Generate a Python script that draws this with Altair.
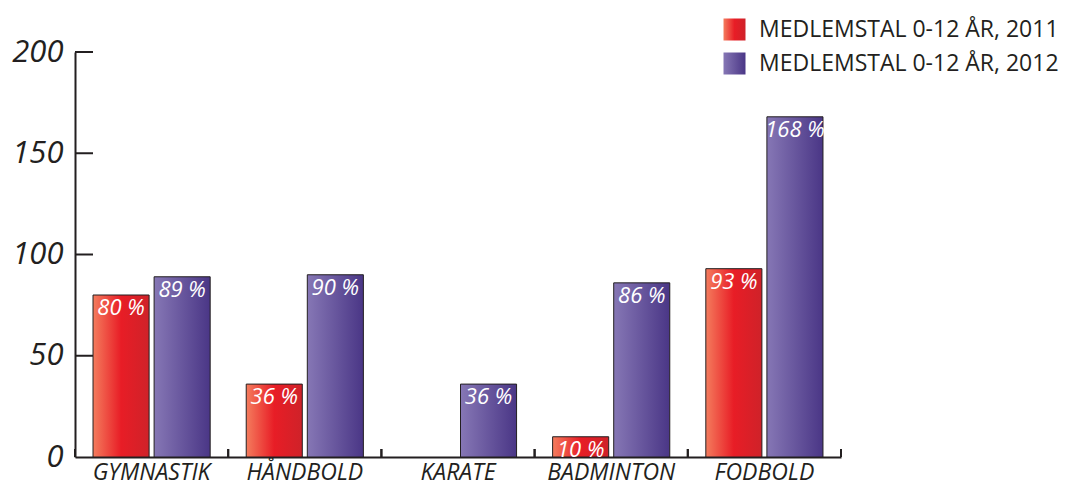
import altair as alt
import pandas as pd

categories = ["GYMNASTIK", "HÅNDBOLD", "KARATE", "BADMINTON", "FODBOLD"]
series_names = ["MEDLEMSTAL 0-12 ÅR, 2011", "MEDLEMSTAL 0-12 ÅR, 2012"]
values_2011 = [80, 36, 0, 10, 93]
values_2012 = [89, 90, 36, 86, 168]
y_ticks = [0, 50, 100, 150, 200]

rows = []
for c, a, b in zip(categories, values_2011, values_2012):
    rows.append({"cat": c, "series": series_names[0], "value": a, "label": f"{a} %"})
    rows.append({"cat": c, "series": series_names[1], "value": b, "label": f"{b} %"})
df = pd.DataFrame(rows)
df = df[df["value"] > 0]

tick_df = pd.DataFrame({"t": y_ticks[1:]})
cat_df = pd.DataFrame({"cat": categories})

INK = "#231f20"
FONT = "Open Sans"

red_grad = "{gradient: 'linear', x1: 0, y1: 0, x2: 1, y2: 0, stops: [{offset: 0, color: '#f47c5d'}, {offset: 0.5, color: '#e81d26'}, {offset: 1, color: '#cf2229'}]}"
pur_grad = "{gradient: 'linear', x1: 0, y1: 0, x2: 1, y2: 0, stops: [{offset: 0, color: '#8677b5'}, {offset: 1, color: '#4a3686'}]}"

x_scale = alt.Scale(domain=categories, paddingInner=0, paddingOuter=0)
xo_scale = alt.Scale(domain=series_names, paddingInner=5 / 61, paddingOuter=36 / 122)
y_scale = alt.Scale(domain=[0, 200], nice=False)

x_axis = alt.Axis(
    title=None, ticks=False, labelAngle=0, domainColor=INK, domainWidth=2,
    labelFont=FONT, labelFontSize=23, labelFontStyle="italic", labelColor=INK,
    labelPadding=4, grid=False, labelLimit=0,
)
y_axis = alt.Axis(
    title=None, ticks=False, values=y_ticks, domainColor=INK, domainWidth=2,
    labelFont=FONT, labelFontSize=31, labelFontStyle="italic", labelColor=INK,
    labelPadding=12, grid=False,
)

bars = alt.Chart(df).mark_bar(stroke=INK, strokeWidth=1).encode(
    x=alt.X("cat:N", scale=x_scale, axis=x_axis, sort=categories),
    xOffset=alt.XOffset("series:N", scale=xo_scale),
    y=alt.Y("value:Q", scale=y_scale, axis=y_axis),
    color=alt.Color(
        "series:N",
        scale=alt.Scale(domain=series_names, range=[{"expr": red_grad}, {"expr": pur_grad}]),
        legend=alt.Legend(
            title=None, orient="none", legendX=648, legendY=-34, padding=0,
            symbolType="square", symbolSize=484, symbolStrokeWidth=0,
            labelFont=FONT, labelFontSize=23, labelColor=INK, labelOffset=13,
            rowPadding=10, symbolOpacity=1, labelLimit=0,
        ),
    ),
)

labels = alt.Chart(df).mark_text(
    baseline="top", dy=3, color="white", font=FONT, fontSize=22, fontStyle="italic"
).encode(
    x=alt.X("cat:N", scale=x_scale, sort=categories),
    xOffset=alt.XOffset("series:N", scale=xo_scale),
    y=alt.Y("value:Q", scale=y_scale),
    text="label:N",
)

yt = alt.Chart(tick_df).mark_rule(color=INK, strokeWidth=2).encode(
    y=alt.Y("t:Q", scale=y_scale), x=alt.value(0), x2=alt.value(18)
)

xt0 = alt.Chart(cat_df).mark_rule(color=INK, strokeWidth=2).encode(
    x=alt.X("cat:N", scale=x_scale, sort=categories, bandPosition=0),
    y=alt.value(397), y2=alt.value(405),
)
xt1 = alt.Chart(cat_df).mark_rule(color=INK, strokeWidth=2).encode(
    x=alt.X("cat:N", scale=x_scale, sort=categories, bandPosition=1),
    y=alt.value(397), y2=alt.value(405),
)

chart = alt.layer(bars, labels, yt, xt0, xt1).properties(
    width=766, height=405,
    autosize=alt.AutoSizeParams(type="none"),
    padding={"left": 67, "top": 44, "right": 228, "bottom": 30},
).configure_view(stroke="transparent", strokeWidth=0)

chart.save("out.html", embed_options={"renderer": "svg", "actions": False})
